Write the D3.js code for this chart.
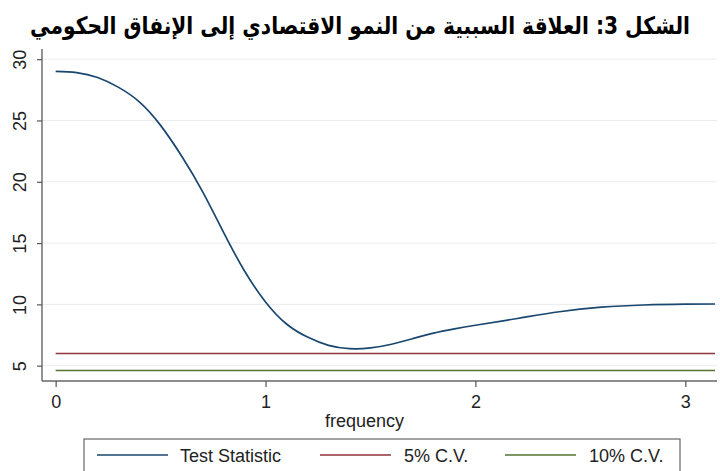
<!DOCTYPE html>
<html>
<head>
<meta charset="utf-8">
<script src="https://cdn.jsdelivr.net/npm/d3@7"></script>
<style>
  html, body { margin: 0; padding: 0; background: #fff; }
  svg { display: block; }
</style>
</head>
<body>
<svg id="chart" width="720" height="471"></svg>
<script>
// ---- Data ----
const title = "الشكل 3: العلاقة السببية من النمو الاقتصادي إلى الإنفاق الحكومي";
const xLabel = "frequency";
const frequency = [0.0, 0.1, 0.2, 0.3, 0.4, 0.5, 0.6, 0.7, 0.8, 0.9, 1.0, 1.1, 1.2, 1.3, 1.4, 1.5, 1.6, 1.7, 1.8, 1.9, 2.0, 2.2, 2.4, 2.6, 2.8, 3.0, 3.1416];
const testStatistic = [29.0, 28.9, 28.5, 27.7, 26.5, 24.6, 22.1, 19.2, 15.87, 12.72, 10.2, 8.4, 7.33, 6.66, 6.39, 6.45, 6.75, 7.2, 7.65, 8.0, 8.3, 8.85, 9.4, 9.77, 9.95, 10.02, 10.03];
const cv5 = 5.99;
const cv10 = 4.61;
const yTicks = [5, 10, 15, 20, 25, 30];
const xTicks = [0, 1, 2, 3];
const seriesNames = ["Test Statistic", "5% C.V.", "10% C.V."];
const seriesColors = ["#1a476f", "#90353b", "#55752f"];

// ---- Layout ----
const svg = d3.select("#chart");
const pLeft = 42, pRight = 717, pTop = 49, pBottom = 381;
const x = d3.scaleLinear().domain([-0.065, 3.151]).range([pLeft, pRight]);
const y = d3.scaleLinear().domain([3.75, 30.83]).range([pBottom, pTop]);
const font = "'Liberation Sans', Arial, sans-serif";

// Title
svg.append("text")
  .attr("x", 360).attr("y", 34)
  .attr("text-anchor", "middle")
  .attr("direction", "rtl")
  .attr("font-family", "'DejaVu Sans', sans-serif")
  .attr("font-weight", "bold")
  .attr("font-size", 24)
  .attr("textLength", 660)
  .attr("lengthAdjust", "spacingAndGlyphs")
  .attr("fill", "#000")
  .text(title);

// Gridlines
svg.append("g").selectAll("line").data(yTicks).join("line")
  .attr("x1", pLeft).attr("x2", pRight)
  .attr("y1", d => y(d)).attr("y2", d => y(d))
  .attr("stroke", "#ececec").attr("stroke-width", 1);

// Y axis
const yAxis = svg.append("g").attr("transform", `translate(${pLeft},0)`)
  .call(d3.axisLeft(y).tickValues(yTicks).tickSize(5).tickPadding(8));
yAxis.select(".domain").attr("stroke", "#666").attr("stroke-width", 1.4)
  .attr("d", `M0,${pTop}V${pBottom}`);
yAxis.selectAll(".tick line").attr("stroke", "#555").attr("stroke-width", 1.2);
yAxis.selectAll(".tick text")
  .attr("font-family", font).attr("font-size", 18).attr("fill", "#222")
  .attr("text-anchor", "middle")
  .attr("transform", "rotate(-90)")
  .attr("x", 0).attr("y", -22).attr("dy", "0.35em");

// X axis
const xAxis = svg.append("g").attr("transform", `translate(0,${pBottom})`)
  .call(d3.axisBottom(x).tickValues(xTicks).tickFormat(d3.format("d")).tickSize(6).tickPadding(8));
xAxis.select(".domain").attr("stroke", "#666").attr("stroke-width", 1.4)
  .attr("d", `M${pLeft},0H${pRight}`);
xAxis.selectAll(".tick line").attr("stroke", "#555").attr("stroke-width", 1.2);
xAxis.selectAll(".tick text")
  .attr("font-family", font).attr("font-size", 18).attr("fill", "#222");

// X label
svg.append("text")
  .attr("x", (pLeft + pRight) / 2 - 15).attr("y", 427)
  .attr("text-anchor", "middle")
  .attr("font-family", font).attr("font-size", 18).attr("fill", "#222")
  .text(xLabel);

// Lines
const pts = frequency.map((f, i) => [f, testStatistic[i]]);
const line = d3.line().x(d => x(d[0])).y(d => y(d[1])).curve(d3.curveNatural);
const f0 = frequency[0], f1 = frequency[frequency.length - 1];
svg.append("path").datum([[f0, cv5], [f1, cv5]])
  .attr("d", d3.line().x(d => x(d[0])).y(d => y(d[1])))
  .attr("fill", "none").attr("stroke", seriesColors[1]).attr("stroke-width", 1.6);
svg.append("path").datum([[f0, cv10], [f1, cv10]])
  .attr("d", d3.line().x(d => x(d[0])).y(d => y(d[1])))
  .attr("fill", "none").attr("stroke", seriesColors[2]).attr("stroke-width", 1.6);
svg.append("path").datum(pts)
  .attr("d", line)
  .attr("fill", "none").attr("stroke", seriesColors[0]).attr("stroke-width", 1.7);

// Legend
const legend = svg.append("g");
legend.append("rect")
  .attr("x", 84).attr("y", 439).attr("width", 596).attr("height", 40)
  .attr("fill", "#fff").attr("stroke", "#666").attr("stroke-width", 1.2);
const legX = [97, 320, 505];
const legTextX = [180, 404, 589];
seriesNames.forEach((name, i) => {
  legend.append("line")
    .attr("x1", legX[i]).attr("x2", legX[i] + 71)
    .attr("y1", 455).attr("y2", 455)
    .attr("stroke", seriesColors[i]).attr("stroke-width", 1.6);
  legend.append("text")
    .attr("x", legTextX[i]).attr("y", 462)
    .attr("font-family", font).attr("font-size", 18).attr("fill", "#222")
    .text(name);
});
</script>
</body>
</html>
